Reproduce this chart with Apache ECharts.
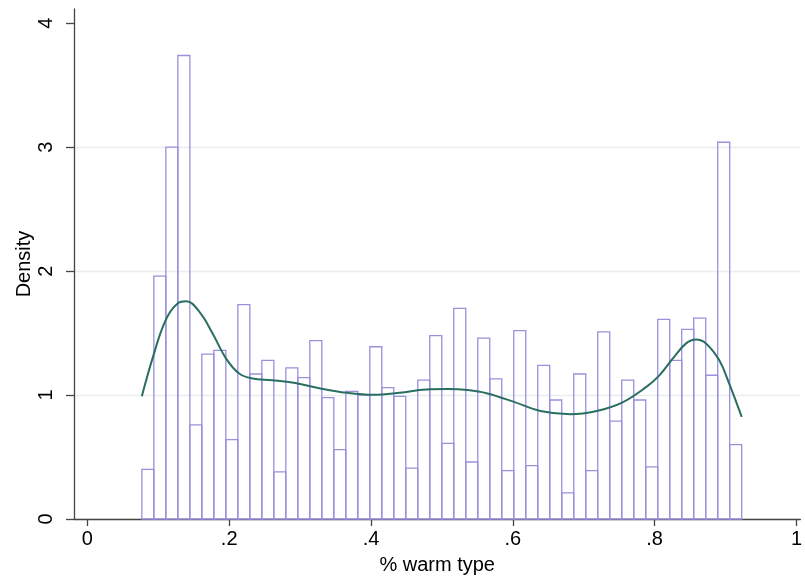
<!DOCTYPE html>
<html>
<head>
<meta charset="utf-8">
<script src="https://cdn.jsdelivr.net/npm/echarts@6/dist/echarts.min.js"></script>
<style>
  html, body { margin: 0; padding: 0; background: #fff; }
  #chart { width: 805px; height: 580px; }
</style>
</head>
<body>
<div id="chart"></div>
<script>
  // histogram: 50 bins, first one starting at binLow
  const binLow = 0.0768
  const binWidth = 0.01692
  const density = [
    0.40, 1.96, 3.00, 3.74, 0.76, 1.33, 1.36, 0.64, 1.73, 1.17,
    1.28, 0.38, 1.22, 1.14, 1.44, 0.98, 0.56, 1.03, 1.00, 1.39,
    1.06, 0.99, 0.41, 1.12, 1.48, 0.61, 1.70, 0.46, 1.46, 1.13,
    0.39, 1.52, 0.43, 1.24, 0.96, 0.21, 1.17, 0.39, 1.51, 0.79,
    1.12, 0.96, 0.42, 1.61, 1.28, 1.53, 1.62, 1.16, 3.04, 0.60
  ]

  // kernel density line
  const kdeX = [
    0.0768, 0.0926, 0.1104, 0.1276, 0.1394, 0.158, 0.1766, 0.1954, 0.214, 0.2327,
    0.2607, 0.2911, 0.3285, 0.3657, 0.4031, 0.4405, 0.4778, 0.5082, 0.5362, 0.5642,
    0.6016, 0.6389, 0.6809, 0.7183, 0.7533, 0.7884, 0.807, 0.8258, 0.8444, 0.8584,
    0.8724, 0.891, 0.905, 0.9228
  ]
  const kdeY = [
    0.99, 1.31, 1.605, 1.74, 1.756, 1.672, 1.497, 1.296, 1.174, 1.134,
    1.12, 1.099, 1.053, 1.018, 1.002, 1.018, 1.045, 1.048, 1.04, 1.013,
    0.945, 0.872, 0.846, 0.872, 0.937, 1.066, 1.161, 1.296, 1.417, 1.449,
    1.417, 1.282, 1.094, 0.824
  ]

  const xTicks = [0, 0.2, 0.4, 0.6, 0.8, 1]
  const yTicks = [0, 1, 2, 3, 4]

  let bins = density.map((d, i) => [binLow + i * binWidth, binLow + (i + 1) * binWidth, d])
  let kde = kdeX.map((x, i) => [x, kdeY[i]])

  let font = 'Liberation Sans, Arial, sans-serif'
  let myChart = echarts.init(document.getElementById('chart'))
  let option = {
    animation: false,
    grid: {
      left: 74,
      right: 0,
      top: 9,
      bottom: 61
    },
    xAxis: {
      type: 'value',
      min: -0.0189,
      max: 1.0055,
      name: '% warm type',
      nameLocation: 'middle',
      nameGap: 36,
      nameMoveOverlap: false,
      nameTextStyle: { color: '#000', fontFamily: font, fontSize: 20 },
      axisLine: { onZero: false, lineStyle: { color: '#444', width: 1.3 } },
      axisTick: { customValues: xTicks, length: 7, lineStyle: { color: '#444', width: 1.3 } },
      axisLabel: {
        customValues: xTicks,
        color: '#000',
        fontFamily: font,
        fontSize: 20,
        margin: 10,
        formatter: function (v) {
          return String(v).replace(/^0\./, '.')
        }
      },
      splitLine: { show: false }
    },
    yAxis: {
      type: 'value',
      min: 0,
      max: 4.115,
      interval: 1,
      name: 'Density',
      nameLocation: 'middle',
      nameGap: 40,
      nameMoveOverlap: false,
      nameRotate: 90,
      nameTextStyle: { color: '#000', fontFamily: font, fontSize: 20 },
      axisLine: { show: true, onZero: false, lineStyle: { color: '#444', width: 1.3 } },
      axisTick: { show: true, customValues: yTicks, length: 8, lineStyle: { color: '#444', width: 1.3 } },
      axisLabel: {
        customValues: yTicks,
        rotate: 90,
        color: '#000',
        fontFamily: font,
        fontSize: 20,
        margin: 18
      },
      splitLine: { show: true, showMaxLine: false, lineStyle: { color: '#e8eef0', width: 1.3 } }
    },
    series: [
      {
        type: 'custom',
        data: bins,
        encode: { x: [0, 1], y: 2 },
        renderItem: function (params, api) {
          let p0 = api.coord([api.value(0), 0])
          let p1 = api.coord([api.value(1), api.value(2)])
          return {
            type: 'rect',
            shape: { x: p0[0], y: p1[1], width: p1[0] - p0[0], height: p0[1] - p1[1] },
            style: { fill: 'none', stroke: '#9a90db', lineWidth: 1.3 }
          }
        }
      },
      {
        type: 'line',
        data: kde,
        smooth: 0.4,
        showSymbol: false,
        lineStyle: { color: '#2a6e62', width: 2 },
        z: 3
      }
    ]
  }
  myChart.setOption(option)
</script>
</body>
</html>
